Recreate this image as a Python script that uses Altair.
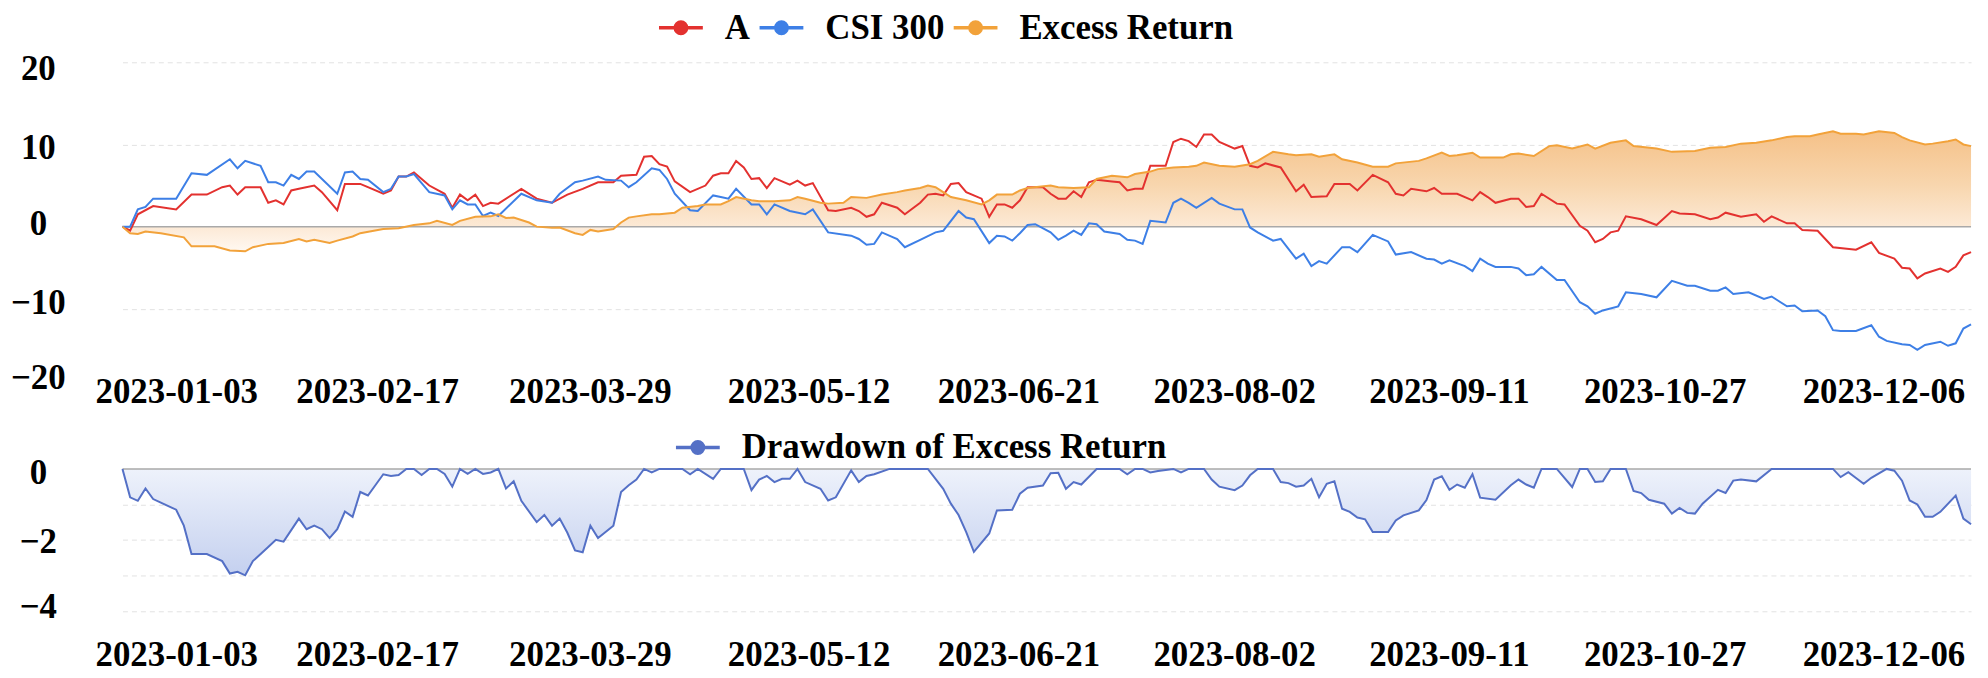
import altair as alt
import pandas as pd

# ---------------- data ----------------
DATE_LABELS = ["2023-01-03", "2023-02-17", "2023-03-29", "2023-05-12", "2023-06-21",
               "2023-08-02", "2023-09-11", "2023-10-27", "2023-12-06"]
LABEL_STEP = 28          # trading days between labelled dates
LAST_DAY = 241           # 242 trading days, index 0..241

SERIES_NAMES = ["A", "CSI 300", "Excess Return"]
SERIES_COLORS = ["#e3312f", "#3d7fe6", "#f2a23a"]
DD_NAME = "Drawdown of Excess Return"
DD_COLOR = "#5470c6"

# (trading-day index, cumulative return %)
A_POINTS = [(0,0),(1,-0.5),(2,1.5),(4,2.5),(7,2.1),(9,3.9),(11,3.9),(13,4.8),(14,5.0),(15,3.9),(16,4.8),(18,4.8),
 (19,2.9),(20,3.2),(21,2.7),(22,4.4),(23,4.6),(25,5.0),(26,4.2),(28,2.0),(29,5.2),(31,5.2),(32,4.8),(34,4.0),(35,4.4),
 (36,6.1),(37,6.1),(38,6.6),(40,5.0),(42,4.0),(43,2.3),(44,3.9),(45,3.2),(46,3.9),(47,2.5),(48,2.9),(49,2.8),(52,4.6),
 (54,3.4),(56,2.9),(58,3.9),(60,4.6),(62,5.4),(64,5.4),(65,6.2),(67,6.3),(68,8.5),(69,8.6),(70,7.6),(71,7.3),(72,5.5),
 (74,4.2),(76,5.0),(77,6.2),(78,6.5),(79,6.5),(80,8.0),(81,7.2),(82,5.8),(83,5.9),(84,4.7),(85,5.9),(87,5.1),(88,5.6),
 (89,5.0),(90,5.3),(92,2.0),(93,1.9),(95,2.3),(96,1.9),(97,1.2),(98,1.5),(99,2.9),(101,2.3),(102,1.5),(104,2.9),(105,3.9),
 (106,4.0),(107,3.8),(108,5.2),(109,5.3),(110,4.2),(112,3.4),(113,1.2),(114,2.7),(115,2.7),(116,2.3),(117,3.2),(118,4.8),
 (120,4.8),(121,4.0),(122,3.4),(123,3.4),(124,4.3),(125,3.6),(126,5.4),(127,5.7),(129,5.5),(130,5.4),(131,4.4),(132,4.6),
 (133,4.6),(134,7.4),(136,7.4),(137,10.3),(138,10.7),(139,10.4),(140,9.7),(141,11.2),(142,11.2),(143,10.3),(145,9.5),
 (146,9.8),(147,7.4),(148,7.2),(149,7.7),(151,7.2),(153,4.3),(154,5.1),(155,3.6),(157,3.7),(158,5.2),(160,5.2),(161,4.4),
 (163,6.3),(165,5.4),(166,4.0),(167,3.8),(168,4.6),(170,4.3),(171,4.7),(172,4.0),(174,4.0),(176,3.2),(177,4.2),(178,3.6),
 (179,2.9),(181,3.4),(182,3.4),(183,2.4),(184,2.5),(185,4.0),(187,2.8),(188,2.7),(190,0.1),(191,-0.5),(192,-1.9),
 (193,-1.5),(194,-0.7),(195,-0.5),(196,1.25),(198,0.9),(200,0.2),(202,1.9),(203,1.6),(205,1.5),(207,0.9),(208,1.1),
 (209,1.7),(211,1.2),(213,1.5),(214,0.6),(215,1.25),(217,0.4),(218,0.4),(219,-0.4),(221,-0.5),(223,-2.5),(226,-2.8),
 (228,-1.9),(229,-3.2),(231,-3.9),(232,-5.0),(233,-5.1),(234,-6.3),(235,-5.7),(237,-5.1),(238,-5.5),(239,-4.9),
 (240,-3.5),(241,-3.1)]

CSI_POINTS = [(0,0),(1,0),(2,2.1),(3,2.4),(4,3.4),(7,3.4),(9,6.5),(11,6.3),(14,8.2),(15,7.1),(16,8.0),(18,7.4),(19,5.4),
 (20,5.4),(21,5.0),(22,6.3),(23,5.8),(24,6.7),(25,6.7),(28,4.0),(29,6.6),(30,6.7),(31,5.8),(32,5.7),(34,4.2),(35,4.6),
 (36,6.1),(37,6.1),(38,6.4),(40,4.2),(42,3.8),(43,2.1),(44,3.2),(45,2.7),(46,2.7),(47,1.3),(48,1.7),(49,1.3),(52,4.0),
 (54,3.2),(56,2.9),(57,4.0),(59,5.4),(60,5.6),(62,6.1),(63,5.7),(65,5.6),(66,4.8),(67,5.4),(69,7.1),(70,6.9),(71,5.8),
 (72,4.0),(74,2.0),(75,1.9),(77,3.8),(78,3.6),(79,3.4),(80,4.6),(82,2.7),(83,2.7),(84,1.5),(85,2.7),(87,1.9),(89,1.5),
 (90,2.1),(92,-0.7),(95,-1.1),(96,-1.5),(97,-2.2),(98,-2.1),(99,-0.7),(101,-1.5),(102,-2.5),(104,-1.6),(106,-0.7),
 (107,-0.5),(109,1.9),(110,1.1),(111,0.9),(113,-2.0),(114,-1.1),(115,-1.2),(116,-1.7),(117,-0.8),(118,0.2),(119,0.3),
 (121,-0.7),(122,-1.6),(123,-1.1),(124,-0.5),(125,-1.0),(126,0.4),(127,0.3),(128,-0.6),(130,-0.9),(131,-1.6),(132,-1.7),
 (133,-2.1),(134,0.7),(136,0.5),(137,2.9),(138,3.4),(139,2.9),(140,2.3),(142,3.5),(143,2.8),(145,2.1),(146,2.1),
 (147,-0.1),(148,-0.7),(150,-1.7),(151,-1.5),(153,-3.9),(154,-3.3),(155,-4.8),(156,-4.2),(157,-4.5),(159,-2.5),
 (160,-2.5),(161,-3.1),(163,-1.0),(165,-1.8),(166,-3.4),(168,-3.1),(170,-3.9),(171,-4.0),(172,-4.5),(173,-4.1),
 (175,-4.8),(176,-5.4),(177,-3.9),(178,-4.5),(179,-4.9),(181,-4.9),(182,-5.1),(183,-5.9),(184,-5.8),(185,-4.9),
 (187,-6.5),(188,-6.5),(190,-9.2),(191,-9.7),(192,-10.6),(193,-10.2),(195,-9.7),(196,-8.0),(198,-8.2),(200,-8.6),
 (202,-6.6),(204,-7.2),(205,-7.2),(207,-7.8),(208,-7.8),(209,-7.4),(210,-8.2),(212,-8.0),(214,-8.8),(215,-8.5),
 (217,-9.7),(218,-9.6),(219,-10.3),(221,-10.2),(222,-10.9),(223,-12.6),(224,-12.7),(226,-12.7),(228,-12.0),
 (229,-13.4),(230,-13.9),(232,-14.3),(233,-14.4),(234,-15.0),(235,-14.4),(237,-14.0),(238,-14.5),(239,-14.2),
 (240,-12.4),(241,-11.9)]

EXCESS_POINTS = [(0,0),(1,-0.8),(2,-0.9),(3,-0.6),(5,-0.8),(8,-1.3),(9,-2.4),(12,-2.4),(14,-2.9),(16,-3.0),(17,-2.5),
 (19,-2.1),(21,-2.0),(23,-1.5),(24,-1.8),(25,-1.6),(27,-2.0),(28,-1.7),(30,-1.2),(31,-0.8),(34,-0.3),(36,-0.2),(38,0.2),
 (40,0.4),(41,0.7),(43,0.2),(44,0.7),(46,1.2),(48,1.25),(49,1.5),(50,1.05),(51,1.1),(53,0.5),(54,0.0),(56,-0.15),
 (57,-0.1),(59,-0.8),(60,-1.0),(61,-0.4),(62,-0.6),(64,-0.3),(65,0.5),(66,1.1),(67,1.25),(69,1.5),(70,1.5),(72,1.7),
 (73,2.3),(75,2.5),(76,2.7),(78,2.7),(79,3.1),(80,3.6),(82,3.2),(83,3.1),(85,3.1),(87,3.2),(88,3.6),(89,3.4),(91,2.9),
 (92,2.8),(94,2.9),(95,3.6),(97,3.5),(99,3.9),(101,4.2),(102,4.4),(104,4.7),(105,5.0),(106,4.8),(107,4.2),(108,3.6),
 (110,3.2),(112,2.7),(113,3.2),(114,3.9),(116,3.9),(117,4.4),(118,4.7),(121,5.0),(122,4.8),(124,4.7),(126,4.8),(127,5.8),
 (129,6.2),(131,6.0),(132,6.4),(134,6.7),(135,7.0),(137,7.2),(139,7.3),(140,7.4),(141,7.8),(143,7.4),(145,7.3),(147,7.6),
 (148,8.0),(150,9.1),(152,8.8),(153,8.7),(155,8.8),(156,8.5),(158,8.8),(159,8.2),(161,7.8),(163,7.3),(165,7.3),(166,7.7),
 (169,8.0),(170,8.3),(172,9.0),(173,8.6),(174,8.7),(176,9.0),(177,8.4),(178,8.4),(180,8.4),(181,8.8),(182,8.9),(184,8.6),
 (186,9.8),(187,9.9),(189,9.5),(191,10.0),(192,9.5),(194,10.2),(196,10.5),(197,9.8),(200,9.5),(202,9.1),(205,9.2),
 (207,9.6),(209,9.7),(211,10.1),(213,10.2),(215,10.5),(217,10.9),(218,11.0),(220,11.0),(221,11.2),(223,11.6),(224,11.3),
 (226,11.3),(227,11.2),(229,11.6),(231,11.4),(232,10.9),(233,10.5),(235,10.0),(236,10.1),(238,10.4),(239,10.6),
 (240,10.0),(241,9.8)]

DRAWDOWN_POINTS = [(0,0),(1,-0.8),(2,-0.9),(3,-0.55),(4,-0.85),(5,-0.95),(7,-1.15),(8,-1.6),(9,-2.4),(11,-2.4),
 (13,-2.6),(14,-2.95),(15,-2.9),(16,-3.0),(17,-2.6),(19,-2.2),(20,-2.0),(21,-2.05),(23,-1.4),(24,-1.7),(25,-1.6),
 (26,-1.7),(27,-1.95),(28,-1.7),(29,-1.2),(30,-1.35),(31,-0.65),(32,-0.75),(34,-0.15),(35,-0.2),(36,-0.17),(37,0),
 (38,0),(39,-0.17),(40,0),(41,0),(42,-0.14),(43,-0.5),(44,0),(45,-0.14),(46,0),(47,-0.14),(48,-0.1),(49,0),(50,-0.55),
 (51,-0.35),(52,-0.9),(54,-1.5),(55,-1.3),(56,-1.6),(57,-1.4),(58,-1.8),(59,-2.3),(60,-2.35),(61,-1.6),(62,-1.95),
 (64,-1.6),(65,-0.65),(66,-0.46),(67,-0.3),(68,0),(69,-0.1),(70,0),(73,0),(74,-0.15),(75,0),(77,-0.28),(78,0),(81,0),
 (82,-0.6),(83,-0.3),(84,-0.2),(85,-0.37),(86,-0.28),(87,-0.28),(88,0),(89,-0.37),(91,-0.56),(92,-0.89),(93,-0.8),
 (95,-0.04),(96,-0.37),(97,-0.2),(98,-0.15),(100,0),(105,0),(107,-0.56),(108,-0.98),(109,-1.3),(110,-1.78),(111,-2.34),
 (113,-1.82),(114,-1.17),(116,-1.15),(117,-0.7),(118,-0.53),(120,-0.47),(121,-0.12),(122,-0.11),(123,-0.56),(124,-0.37),
 (125,-0.44),(127,0),(130,0),(131,-0.15),(132,0),(133,0),(134,-0.1),(135,-0.06),(137,0),(138,-0.1),(139,0),(141,0),
 (142,-0.3),(143,-0.5),(145,-0.6),(146,-0.47),(147,-0.18),(148,0),(150,0),(151,-0.37),(152,-0.4),(153,-0.5),(154,-0.47),
 (155,-0.28),(156,-0.8),(157,-0.42),(158,-0.35),(159,-1.12),(160,-1.21),(161,-1.37),(162,-1.42),(163,-1.78),(165,-1.78),
 (166,-1.45),(167,-1.31),(169,-1.17),(170,-0.88),(171,-0.3),(172,-0.21),(173,-0.59),(174,-0.44),(175,-0.53),(176,-0.15),
 (177,-0.81),(179,-0.87),(181,-0.46),(182,-0.3),(183,-0.44),(184,-0.53),(185,0),(187,0),(189,-0.51),(190,0),(191,0),
 (192,-0.37),(193,-0.35),(194,0),(196,0),(197,-0.62),(198,-0.68),(199,-0.87),(201,-0.98),(202,-1.26),(203,-1.1),
 (204,-1.24),(205,-1.26),(206,-0.98),(208,-0.59),(209,-0.68),(210,-0.33),(211,-0.3),(213,-0.35),(215,0),(219,0),(223,0),
 (224,-0.23),(225,-0.09),(227,-0.42),(228,-0.25),(230,0),(231,-0.05),(232,-0.33),(233,-0.89),(234,-1.0),(235,-1.35),
 (236,-1.35),(237,-1.21),(239,-0.75),(240,-1.4),(241,-1.56)]

TOP_Y_TICKS = [20, 10, 0, -10, -20]
BOTTOM_Y_TICKS = [0, -1, -2, -3, -4]

# ---------------- frames ----------------
rows = []
for name, pts in zip(SERIES_NAMES, [A_POINTS, CSI_POINTS, EXCESS_POINTS]):
    for d, v in pts:
        rows.append({"day": d, "value": v, "series": name})
top_df = pd.DataFrame(rows)
excess_df = pd.DataFrame(EXCESS_POINTS, columns=["day", "value"])
dd_df = pd.DataFrame(DRAWDOWN_POINTS, columns=["day", "value"])
dd_df["series"] = DD_NAME
zero_df = pd.DataFrame({"value": [0]})

# ---------------- styling ----------------
FONT = "Liberation Serif"
FS = 35
tick_days = [k * LABEL_STEP for k in range(len(DATE_LABELS))]
label_expr = "[" + ",".join("'%s'" % d for d in DATE_LABELS) + "][round(datum.value / %d)]" % LABEL_STEP
x_shift = [54, 40, 38, 42, 37, 38, 38, 39, 43]
x_offset_cond = {"condition": [{"test": "datum.value == %d" % d, "value": s} for d, s in zip(tick_days, x_shift)],
                 "value": 40}


def x_axis(pad):
    return alt.Axis(values=tick_days, labelExpr=label_expr, grid=False, domain=False, ticks=False, tickSize=0,
                    labelFont=FONT, labelFontSize=FS, labelFontWeight="bold", labelColor="#000000",
                    labelBaseline="middle", labelAlign="center", labelPadding=pad, labelOffset=x_offset_cond,
                    labelFlush=False, labelOverlap=False, labelBound=False, title=None)


def y_axis(values, shifts, label_expr_y=None):
    kw = {}
    if label_expr_y:
        kw["labelExpr"] = label_expr_y
    return alt.Axis(values=values, grid=True, gridDash=[5, 4], gridColor="#e2e2e2", gridWidth=1,
                    gridOpacity={"condition": {"test": "datum.value == 0 || datum.value == -20", "value": 0},
                                 "value": 1},
                    domain=False, ticks=False, tickSize=0,
                    labelFont=FONT, labelFontSize=FS, labelFontWeight="bold", labelColor="#000000",
                    labelAlign="center", labelBaseline="middle", labelPadding=85,
                    labelOffset={"condition": [{"test": "datum.value == %s" % v, "value": s}
                                               for v, s in shifts.items()], "value": 0},
                    labelFlush=False, labelOverlap=False, title=None, **kw)


SYMBOL = ("M-1,0L1,0"
          "M0.26,0A0.26,0.26,0,1,1,-0.26,0A0.26,0.26,0,1,1,0.26,0"
          "M0.12,0A0.12,0.12,0,1,1,-0.12,0A0.12,0.12,0,1,1,0.12,0"
          "M0.03,0A0.03,0.03,0,1,1,-0.03,0A0.03,0.03,0,1,1,0.03,0")


def legend(lx, ly):
    return alt.Legend(orient="none", legendX=lx, legendY=ly, direction="horizontal", title=None,
                      labelFont=FONT, labelFontSize=FS, labelFontWeight="bold", labelColor="#000000",
                      labelLimit=500, symbolType=SYMBOL, symbolSize=1936, symbolStrokeWidth=3.5,
                      labelOffset=20, columnPadding=2, padding=0)


W = 1857
TOP_H = 330.2
BOT_H = 142.5

x_top = alt.X("day:Q", scale=alt.Scale(domain=[0, LAST_DAY], nice=False, zero=False), axis=x_axis(1))
y_top = alt.Y("value:Q", scale=alt.Scale(domain=[-20, 20], nice=False, zero=False),
              axis=y_axis(TOP_Y_TICKS, {20: 6, 10: 3, 0: -3, -10: -6, -20: -13}))

grad_top = alt.Gradient(gradient="linear", x1=0, x2=0, y1=0, y2=1,
                        stops=[alt.GradientStop(color="#f5c188", offset=0),
                               alt.GradientStop(color="#f8d6ae", offset=0.45),
                               alt.GradientStop(color="#fce9d5", offset=0.79),
                               alt.GradientStop(color="#fff8f1", offset=1)])

top_area = alt.Chart(excess_df).mark_area(color=grad_top, line=False).encode(x=x_top, y=y_top)
top_zero = alt.Chart(zero_df).mark_rule(color="#a9a9a9", strokeWidth=1.5).encode(y=y_top)
top_lines = alt.Chart(top_df).mark_line(strokeWidth=2).encode(
    x=x_top, y=y_top,
    color=alt.Color("series:N", scale=alt.Scale(domain=SERIES_NAMES, range=SERIES_COLORS),
                    sort=SERIES_NAMES, legend=legend(537, -58.7)))
top = alt.layer(top_area, top_zero, top_lines).properties(width=W, height=TOP_H)

x_bot = alt.X("day:Q", scale=alt.Scale(domain=[0, LAST_DAY], nice=False, zero=False), axis=x_axis(44))
y_bot = alt.Y("value:Q", scale=alt.Scale(domain=[-4, 0], nice=False, zero=False),
              axis=y_axis(BOTTOM_Y_TICKS, {0: 3.5, -2: 1.5, -4: -4},
                          "datum.value % 2 == 0 ? datum.label : ''"))
grad_bot = alt.Gradient(gradient="linear", x1=0, x2=0, y1=0, y2=1,
                        stops=[alt.GradientStop(color="#eef2fb", offset=0),
                               alt.GradientStop(color="#c4d0ef", offset=1)])
bot_area = alt.Chart(dd_df).mark_area(color=grad_bot, line=False).encode(x=x_bot, y=y_bot)
bot_zero = alt.Chart(zero_df).mark_rule(color="#a9a9a9", strokeWidth=1.5).encode(y=y_bot)
bot_line = alt.Chart(dd_df).mark_line(strokeWidth=2).encode(
    x=x_bot, y=y_bot,
    color=alt.Color("series:N", scale=alt.Scale(domain=[DD_NAME], range=[DD_COLOR]), legend=legend(554, -45.5)))
bottom = alt.layer(bot_area, bot_zero, bot_line).properties(width=W, height=BOT_H)

chart = alt.vconcat(top, bottom, spacing=77.5, bounds="flush").resolve_scale(
    color="independent", x="independent", y="independent").resolve_legend(color="independent").properties(
    padding={"top": -6, "left": 2, "right": 5, "bottom": 5}, background="#ffffff"
).configure_view(stroke=None)

chart.save("out.html", embed_options={"renderer": "svg", "actions": False})
